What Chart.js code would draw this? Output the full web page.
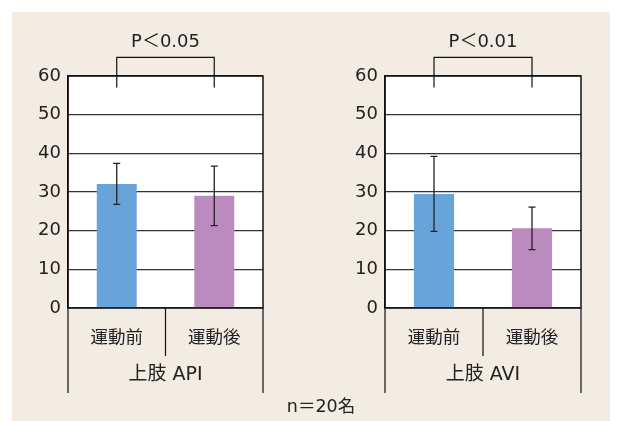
<!DOCTYPE html>
<html><head><meta charset="utf-8">
<script src="https://cdn.jsdelivr.net/npm/chart.js@4"></script>
<style>
html,body{margin:0;padding:0;background:#fff;}
#wrap{position:relative;width:622px;height:421px;overflow:hidden;}
#bg{position:absolute;left:12px;top:12px;width:598px;height:409px;background:#f2ece2;}
canvas{position:absolute;top:0;}
#c1{left:0;} #c2{left:311px;}
#note{position:absolute;left:221px;width:200px;top:392px;line-height:22px;text-align:center;font:17.5px "DejaVu Sans","Noto Sans CJK JP";color:#222;}
</style></head><body>
<div id="wrap"><div id="bg"></div>
<canvas id="c1" width="311" height="421"></canvas>
<canvas id="c2" width="311" height="421"></canvas>
<div id="note">n＝20名</div>
</div>
<script>
const categories = ["運動前", "運動後"];
const groupLabels = ["上肢 API", "上肢 AVI"];
const apiMeans = [32.1, 29.0];
const apiSD = [5.3, 7.7];
const aviMeans = [29.5, 20.6];
const aviSD = [9.7, 5.5];
const pLabels = ["P＜0.05", "P＜0.01"];
const yTicks = [0, 10, 20, 30, 40, 50, 60];
const barColors = ["#68a4d9", "#bb8bbf"];
const FONT = '"DejaVu Sans", "Noto Sans CJK JP", sans-serif';

const extras = {
  id: 'extras',
  beforeDraw(chart) {
    const a = chart.chartArea, ctx = chart.ctx;
    ctx.save(); ctx.fillStyle = '#fff';
    ctx.fillRect(a.left, a.top, a.right - a.left, a.bottom - a.top);
    ctx.restore();
  },
  afterDatasetsDraw(chart, args, opts) {
    const ctx = chart.ctx, a = chart.chartArea, y = chart.scales.y;
    const meta = chart.getDatasetMeta(0);
    ctx.save();
    ctx.strokeStyle = '#222'; ctx.lineWidth = 1.3;
    meta.data.forEach((bar, i) => {
      const m = opts.means[i], s = opts.sd[i];
      const yt = y.getPixelForValue(m + s), yb = y.getPixelForValue(m - s);
      ctx.beginPath();
      ctx.moveTo(bar.x, yt); ctx.lineTo(bar.x, yb);
      ctx.moveTo(bar.x - 3.5, yt); ctx.lineTo(bar.x + 3.5, yt);
      ctx.moveTo(bar.x - 3.5, yb); ctx.lineTo(bar.x + 3.5, yb);
      ctx.stroke();
    });
    ctx.strokeStyle = '#111'; ctx.lineWidth = 1.5;
    ctx.strokeRect(a.left, a.top, a.right - a.left, a.bottom - a.top);
    const x0 = meta.data[0].x, x1 = meta.data[1].x;
    const yh = y.getPixelForValue(64.8), yl = y.getPixelForValue(57);
    ctx.lineWidth = 1.2;
    ctx.beginPath();
    ctx.moveTo(x0, yl); ctx.lineTo(x0, yh); ctx.lineTo(x1, yh); ctx.lineTo(x1, yl);
    ctx.stroke();
    ctx.fillStyle = '#222'; ctx.font = '18px ' + FONT;
    ctx.textAlign = 'center'; ctx.textBaseline = 'middle';
    ctx.fillText(opts.p, (x0 + x1) / 2, yh - 15);
    const mid = (a.left + a.right) / 2;
    ctx.lineWidth = 1.2;
    ctx.beginPath();
    ctx.moveTo(a.left, a.bottom); ctx.lineTo(a.left, a.bottom + 85);
    ctx.moveTo(a.right, a.bottom); ctx.lineTo(a.right, a.bottom + 85);
    ctx.moveTo(mid, a.bottom); ctx.lineTo(mid, a.bottom + 48);
    ctx.stroke();
    ctx.font = '19px ' + FONT;
    ctx.fillText(opts.group, mid, a.bottom + 67);
    ctx.restore();
  }
};

function make(id, means, sd, group, p, padL, padR, yW) {
  return new Chart(document.getElementById(id), {
    type: 'bar',
    data: { labels: categories, datasets: [{ data: means, backgroundColor: barColors, barPercentage: 0.41, categoryPercentage: 1 }] },
    options: {
      responsive: false, animation: false,
      layout: { padding: { left: padL, right: padR, top: 76, bottom: 0 } },
      plugins: { legend: { display: false }, tooltip: { enabled: false }, extras: { means, sd, group, p } },
      scales: {
        x: {
          grid: { display: false, drawTicks: false },
          border: { display: false },
          ticks: { color: '#222', font: { family: FONT, size: 17.5 }, padding: 20 },
          afterFit(s) { s.height = 113; }
        },
        y: {
          min: 0, max: 60,
          afterBuildTicks(s) { s.ticks = yTicks.map(v => ({ value: v })); },
          grid: { color: '#333', lineWidth: 1.2, drawTicks: false },
          border: { display: true, color: '#111', width: 1.5 },
          ticks: { color: '#222', font: { family: FONT, size: 18 }, padding: 7 },
          afterFit(s) { s.width = yW; }
        }
      }
    },
    plugins: [extras]
  });
}
make('c1', apiMeans, apiSD, groupLabels[0], pLabels[0], 0, 48, 68);
make('c2', aviMeans, aviSD, groupLabels[1], pLabels[1], 0, 41, 74);
</script></body></html>
